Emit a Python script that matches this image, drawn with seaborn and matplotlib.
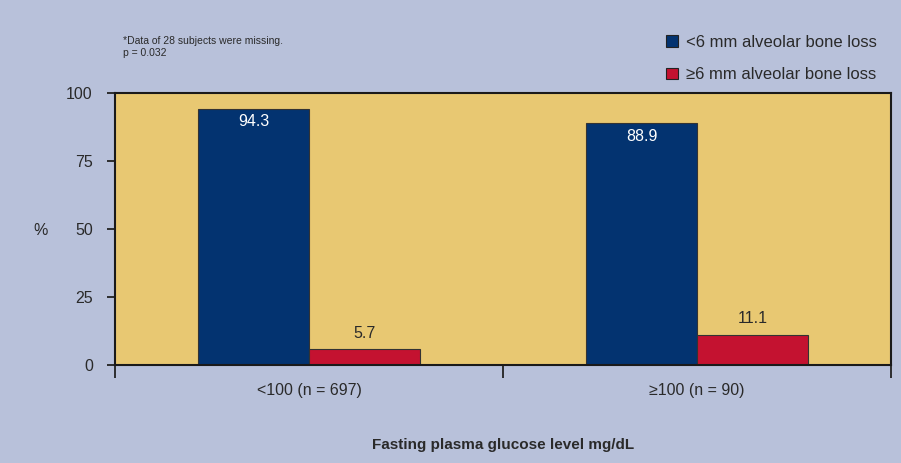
import matplotlib
matplotlib.use("Agg")
import matplotlib.pyplot as plt
import seaborn as sns
import pandas as pd
from matplotlib.patches import Patch

categories = ["<100 (n = 697)", "\u2265100 (n = 90)"]
series_names = ["<6 mm alveolar bone loss", "\u22656 mm alveolar bone loss"]
low_loss = [94.3, 88.9]
high_loss = [5.7, 11.1]
y_ticks = [0, 25, 50, 75, 100]

df = pd.DataFrame({
    "group": categories * 2,
    "series": [series_names[0]] * 2 + [series_names[1]] * 2,
    "value": low_loss + high_loss,
})

sns.set_theme(style="white")
plt.rcParams["font.family"] = ["Liberation Sans", "DejaVu Sans"]

BG = "#B8C1DA"
PLOT_BG = "#E8C872"
BLUE = "#033370"
RED = "#C41230"
TXT = "#2a2a2a"

W, H = 901, 463
fig = plt.figure(figsize=(W / 100, H / 100), dpi=100)
fig.patch.set_facecolor(BG)
ax = fig.add_axes([115 / W, (H - 365) / H, (891 - 115) / W, (365 - 93) / H])
ax.set_facecolor(PLOT_BG)

sns.barplot(data=df, x="group", y="value", hue="series", order=categories,
            hue_order=series_names, palette=[BLUE, RED], width=0.572,
            saturation=1, edgecolor="#333333", linewidth=0.8, ax=ax, legend=False)

ax.set_xlim(-0.5, 1.5)
ax.set_ylim(0, 100)
ax.set_yticks(y_ticks)
ax.set_yticklabels([str(v) for v in y_ticks], fontsize=11.5, color=TXT)
ax.set_xticks([0, 1])
ax.set_xticklabels(categories, fontsize=11.5, color=TXT)
ax.tick_params(axis="x", which="major", length=0, pad=13)
ax.set_xticks([-0.5, 0.5, 1.5], minor=True)
ax.tick_params(axis="x", which="minor", bottom=True, length=9, width=1.3,
               color="#222222", direction="out")
ax.tick_params(axis="y", which="major", length=6, width=1.3, color="#222222",
               direction="out", left=True, pad=10)
for s in ax.spines.values():
    s.set_visible(True)
    s.set_color("#1a1a1a")
    s.set_linewidth(1.5)
ax.set_xlabel("")
ax.set_ylabel("")

conts = ax.containers
ax.bar_label(conts[0], labels=[f"{v}" for v in low_loss], padding=-15,
             color="white", fontsize=11.5)
ax.bar_label(conts[1], labels=[f"{v}" for v in high_loss], padding=6,
             color=TXT, fontsize=11.5)

fig.text(41 / W, 1 - 230 / H, "%", fontsize=11.5, color=TXT, ha="center", va="center")
fig.text(503 / W, 1 - 445 / H, "Fasting plasma glucose level mg/dL", fontsize=11,
         fontweight="bold", color=TXT, ha="center", va="center")
fig.text(123 / W, 1 - 41 / H, "*Data of 28 subjects were missing.", fontsize=7.5,
         color=TXT, ha="left", va="center")
fig.text(123 / W, 1 - 53 / H, "p = 0.032", fontsize=7.5, color=TXT, ha="left", va="center")

handles = [Patch(facecolor=BLUE, edgecolor="#222222", linewidth=0.8),
           Patch(facecolor=RED, edgecolor="#222222", linewidth=0.8)]
fig.legend(handles, series_names, loc="upper left",
           bbox_to_anchor=(651 / W, 1 - 20 / H), frameon=False, fontsize=12,
           handlelength=0.7, handleheight=0.7, handletextpad=0.5,
           labelspacing=1.05, labelcolor=TXT)

fig.savefig("out.png", dpi=100, facecolor=BG)
